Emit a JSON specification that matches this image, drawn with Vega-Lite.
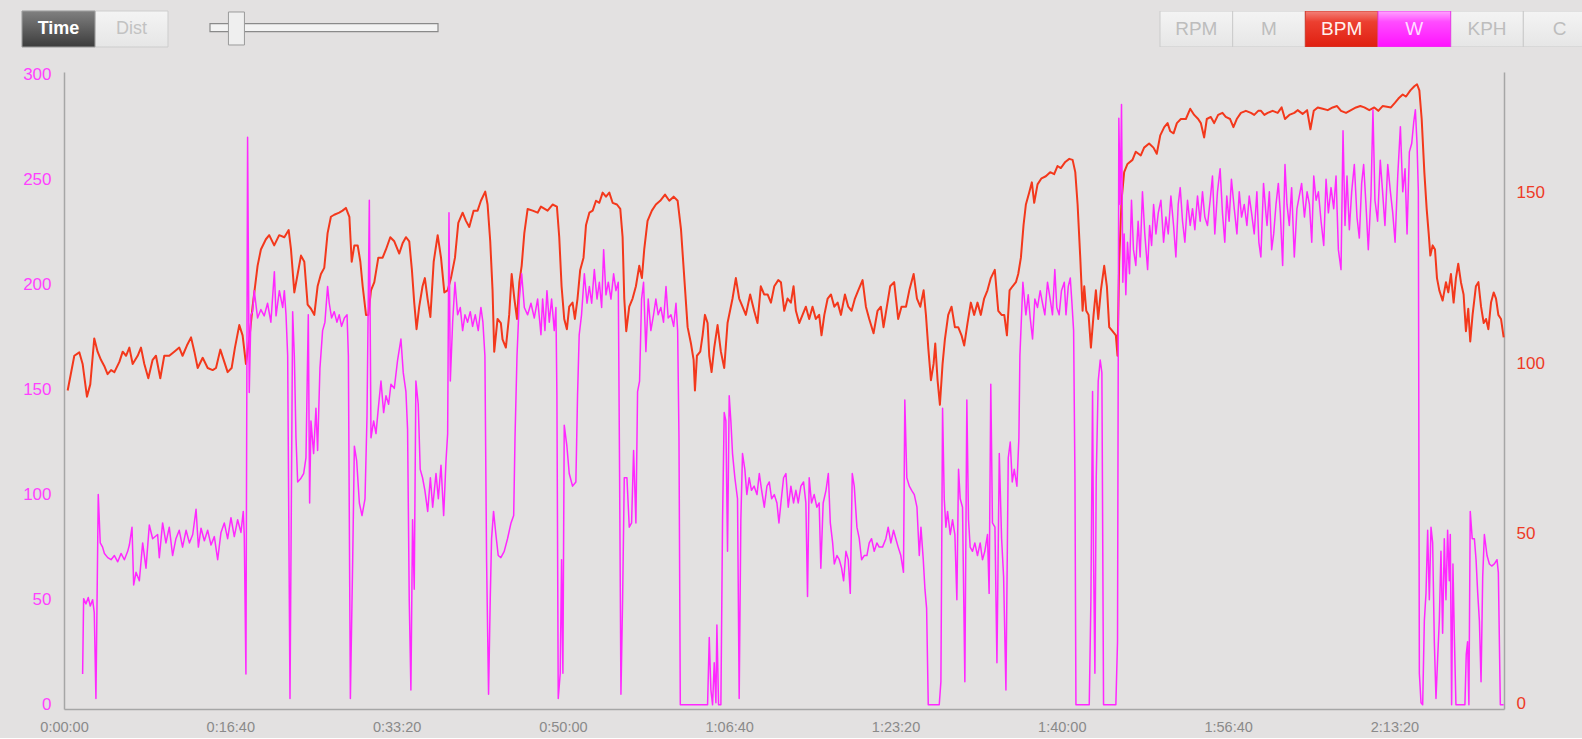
{
"$schema": "https://vega.github.io/schema/vega-lite/v6.json",
"background": "#e3e1e1",
"padding": {"left": 21, "top": 10, "right": 0, "bottom": 4},
"config": {"view": {"stroke": null}, "font": "Liberation Sans"},
"spacing": 17,
"datasets": {
"bpm": [
{"t":22,"bpm":92.0},{"t":62,"bpm":102.2},{"t":92,"bpm":103.2},{"t":112,"bpm":99.8},{"t":138,"bpm":90.2},{"t":158,"bpm":93.8},{"t":182,"bpm":107.3},{"t":202,"bpm":103.4},{"t":222,"bpm":101.0},{"t":242,"bpm":99.2},{"t":262,"bpm":96.8},{"t":283,"bpm":98.0},{"t":303,"bpm":97.4},{"t":333,"bpm":100.4},{"t":353,"bpm":103.4},{"t":373,"bpm":102.2},{"t":393,"bpm":104.6},{"t":413,"bpm":99.8},{"t":443,"bpm":102.2},{"t":463,"bpm":104.6},{"t":483,"bpm":99.8},{"t":507,"bpm":95.6},{"t":533,"bpm":101.0},{"t":553,"bpm":102.2},{"t":579,"bpm":95.6},{"t":603,"bpm":102.2},{"t":633,"bpm":102.2},{"t":663,"bpm":103.4},{"t":693,"bpm":104.6},{"t":713,"bpm":102.2},{"t":739,"bpm":105.2},{"t":764,"bpm":107.6},{"t":784,"bpm":103.4},{"t":804,"bpm":98.6},{"t":834,"bpm":101.6},{"t":864,"bpm":98.6},{"t":894,"bpm":98.0},{"t":914,"bpm":98.6},{"t":940,"bpm":104.0},{"t":964,"bpm":100.4},{"t":984,"bpm":97.4},{"t":1008,"bpm":98.6},{"t":1028,"bpm":104.6},{"t":1054,"bpm":111.2},{"t":1074,"bpm":108.2},{"t":1094,"bpm":99.8},{"t":1114,"bpm":107.0},{"t":1134,"bpm":116.6},{"t":1164,"bpm":128.6},{"t":1184,"bpm":133.4},{"t":1214,"bpm":136.4},{"t":1234,"bpm":137.6},{"t":1264,"bpm":134.6},{"t":1294,"bpm":137.6},{"t":1325,"bpm":137.0},{"t":1351,"bpm":139.1},{"t":1365,"bpm":133.4},{"t":1385,"bpm":120.8},{"t":1405,"bpm":126.2},
{"t":1425,"bpm":131.6},{"t":1445,"bpm":129.8},{"t":1465,"bpm":117.2},{"t":1485,"bpm":116.0},{"t":1505,"bpm":114.2},{"t":1525,"bpm":122.6},{"t":1545,"bpm":126.2},{"t":1565,"bpm":128.0},{"t":1585,"bpm":138.2},{"t":1605,"bpm":143.0},{"t":1625,"bpm":143.6},{"t":1655,"bpm":144.2},{"t":1675,"bpm":144.8},{"t":1695,"bpm":145.6},{"t":1716,"bpm":143.0},{"t":1730,"bpm":129.8},{"t":1746,"bpm":134.6},{"t":1766,"bpm":134.6},{"t":1782,"bpm":129.8},{"t":1796,"bpm":122.6},{"t":1816,"bpm":114.2},{"t":1830,"bpm":114.2},{"t":1846,"bpm":121.4},{"t":1866,"bpm":123.8},{"t":1890,"bpm":131.0},{"t":1916,"bpm":131.0},{"t":1936,"bpm":133.4},{"t":1962,"bpm":137.0},{"t":1986,"bpm":135.8},{"t":2016,"bpm":132.2},{"t":2036,"bpm":135.2},{"t":2056,"bpm":137.0},{"t":2076,"bpm":135.8},{"t":2092,"bpm":127.4},{"t":2106,"bpm":117.8},{"t":2120,"bpm":110.0},{"t":2136,"bpm":116.6},{"t":2156,"bpm":122.6},{"t":2170,"bpm":125.0},{"t":2186,"bpm":119.0},{"t":2203,"bpm":113.6},{"t":2223,"bpm":129.8},{"t":2247,"bpm":137.6},{"t":2267,"bpm":131.0},{"t":2287,"bpm":120.8},{"t":2307,"bpm":121.4},{"t":2327,"bpm":125.0},{"t":2351,"bpm":131.0},{"t":2371,"bpm":141.2},{"t":2397,"bpm":144.2},{"t":2417,"bpm":141.8},{"t":2437,"bpm":140.0},{"t":2463,"bpm":144.8},{"t":2487,"bpm":144.8},{"t":2507,"bpm":147.7},{"t":2533,"bpm":150.4},{"t":2547,"bpm":146.6},{"t":2563,"bpm":135.8},{"t":2577,"bpm":121.4},{"t":2587,"bpm":103.4},{"t":2607,"bpm":113.0},{"t":2627,"bpm":111.8},{"t":2637,"bpm":107.0},{"t":2657,"bpm":104.6},{"t":2677,"bpm":114.2},{"t":2692,"bpm":126.2},{"t":2708,"bpm":119.0},{"t":2724,"bpm":113.0},{"t":2738,"bpm":123.8},{"t":2752,"bpm":128.6},{"t":2768,"bpm":138.2},{"t":2788,"bpm":145.3},{"t":2818,"bpm":144.8},{"t":2848,"bpm":144.2},
{"t":2868,"bpm":146.0},{"t":2908,"bpm":144.8},{"t":2938,"bpm":146.6},{"t":2964,"bpm":146.0},{"t":2978,"bpm":137.0},{"t":2992,"bpm":122.6},{"t":3008,"bpm":113.0},{"t":3024,"bpm":110.0},{"t":3038,"bpm":116.6},{"t":3058,"bpm":117.8},{"t":3072,"bpm":113.0},{"t":3088,"bpm":119.0},{"t":3104,"bpm":127.4},{"t":3124,"bpm":131.0},{"t":3139,"bpm":140.6},{"t":3159,"bpm":144.2},{"t":3179,"bpm":144.8},{"t":3199,"bpm":147.7},{"t":3219,"bpm":147.1},{"t":3239,"bpm":150.1},{"t":3259,"bpm":148.9},{"t":3279,"bpm":150.1},{"t":3299,"bpm":147.1},{"t":3325,"bpm":146.6},{"t":3345,"bpm":145.3},{"t":3359,"bpm":137.0},{"t":3369,"bpm":119.0},{"t":3381,"bpm":109.4},{"t":3399,"bpm":116.6},{"t":3419,"bpm":119.0},{"t":3439,"bpm":122.6},{"t":3459,"bpm":128.6},{"t":3475,"bpm":125.0},{"t":3489,"bpm":133.4},{"t":3509,"bpm":141.8},{"t":3535,"bpm":144.8},{"t":3559,"bpm":146.6},{"t":3585,"bpm":147.7},{"t":3614,"bpm":149.5},{"t":3640,"bpm":147.7},{"t":3666,"bpm":148.9},{"t":3690,"bpm":147.7},{"t":3710,"bpm":139.4},{"t":3730,"bpm":125.0},{"t":3750,"bpm":110.6},{"t":3770,"bpm":105.8},{"t":3786,"bpm":101.0},{"t":3794,"bpm":92.0},{"t":3806,"bpm":102.2},{"t":3826,"bpm":103.4},{"t":3840,"bpm":108.2},{"t":3854,"bpm":114.2},{"t":3870,"bpm":111.8},{"t":3880,"bpm":102.2},{"t":3894,"bpm":97.4},{"t":3910,"bpm":104.6},{"t":3930,"bpm":111.2},{"t":3950,"bpm":103.4},{"t":3970,"bpm":98.6},{"t":3990,"bpm":111.8},{"t":4020,"bpm":119.0},{"t":4040,"bpm":125.0},{"t":4060,"bpm":119.0},{"t":4080,"bpm":116.6},{"t":4100,"bpm":114.2},{"t":4126,"bpm":120.2},{"t":4150,"bpm":115.4},{"t":4170,"bpm":111.8},{"t":4190,"bpm":122.6},{"t":4210,"bpm":120.2},{"t":4231,"bpm":120.2},{"t":4251,"bpm":117.8},{"t":4271,"bpm":122.6},{"t":4295,"bpm":124.4},
{"t":4311,"bpm":123.8},{"t":4331,"bpm":115.4},{"t":4351,"bpm":119.0},{"t":4371,"bpm":117.8},{"t":4387,"bpm":122.6},{"t":4401,"bpm":115.4},{"t":4421,"bpm":111.8},{"t":4441,"bpm":114.2},{"t":4461,"bpm":116.6},{"t":4481,"bpm":113.0},{"t":4501,"bpm":116.6},{"t":4521,"bpm":113.0},{"t":4541,"bpm":114.2},{"t":4555,"bpm":108.2},{"t":4572,"bpm":114.2},{"t":4592,"bpm":119.0},{"t":4612,"bpm":120.2},{"t":4632,"bpm":116.6},{"t":4652,"bpm":117.8},{"t":4672,"bpm":114.2},{"t":4696,"bpm":120.2},{"t":4716,"bpm":116.6},{"t":4736,"bpm":115.4},{"t":4756,"bpm":119.0},{"t":4776,"bpm":121.4},{"t":4802,"bpm":124.4},{"t":4822,"bpm":116.6},{"t":4842,"bpm":113.0},{"t":4868,"bpm":108.8},{"t":4892,"bpm":115.4},{"t":4912,"bpm":116.6},{"t":4928,"bpm":110.6},{"t":4948,"bpm":116.6},{"t":4968,"bpm":122.6},{"t":4992,"bpm":123.8},{"t":5016,"bpm":113.0},{"t":5036,"bpm":116.6},{"t":5063,"bpm":116.6},{"t":5083,"bpm":121.4},{"t":5109,"bpm":126.2},{"t":5129,"bpm":119.0},{"t":5149,"bpm":116.6},{"t":5169,"bpm":121.4},{"t":5183,"bpm":114.2},{"t":5197,"bpm":104.6},{"t":5213,"bpm":95.0},{"t":5229,"bpm":99.8},{"t":5239,"bpm":105.8},{"t":5253,"bpm":95.0},{"t":5267,"bpm":87.8},{"t":5283,"bpm":99.8},{"t":5297,"bpm":107.0},{"t":5317,"bpm":114.2},{"t":5337,"bpm":116.6},{"t":5357,"bpm":110.6},{"t":5377,"bpm":110.6},{"t":5397,"bpm":108.2},{"t":5413,"bpm":105.2},{"t":5433,"bpm":111.8},{"t":5453,"bpm":117.8},{"t":5473,"bpm":114.2},{"t":5493,"bpm":117.8},{"t":5513,"bpm":114.2},{"t":5533,"bpm":119.0},{"t":5553,"bpm":121.4},{"t":5573,"bpm":125.0},{"t":5597,"bpm":127.4},{"t":5618,"bpm":115.4},{"t":5638,"bpm":114.2},{"t":5654,"bpm":114.2},{"t":5670,"bpm":108.2},{"t":5686,"bpm":121.4},{"t":5704,"bpm":122.6},{"t":5724,"bpm":123.8},{"t":5738,"bpm":126.2},
{"t":5754,"bpm":131.0},{"t":5770,"bpm":140.6},{"t":5784,"bpm":146.6},{"t":5804,"bpm":150.1},{"t":5820,"bpm":153.1},{"t":5834,"bpm":147.1},{"t":5854,"bpm":152.5},{"t":5878,"bpm":154.3},{"t":5904,"bpm":154.9},{"t":5930,"bpm":156.1},{"t":5954,"bpm":155.5},{"t":5974,"bpm":157.9},{"t":5994,"bpm":157.3},{"t":6021,"bpm":159.1},{"t":6045,"bpm":160.0},{"t":6065,"bpm":159.7},{"t":6081,"bpm":156.1},{"t":6095,"bpm":146.6},{"t":6111,"bpm":131.0},{"t":6125,"bpm":115.4},{"t":6135,"bpm":122.6},{"t":6147,"bpm":115.4},{"t":6161,"bpm":114.2},{"t":6175,"bpm":104.6},{"t":6191,"bpm":114.2},{"t":6205,"bpm":121.4},{"t":6219,"bpm":113.0},{"t":6235,"bpm":121.4},{"t":6255,"bpm":128.6},{"t":6271,"bpm":122.6},{"t":6285,"bpm":110.6},{"t":6305,"bpm":109.4},{"t":6325,"bpm":108.2},{"t":6335,"bpm":102.2},{"t":6345,"bpm":129.8},{"t":6359,"bpm":147.7},{"t":6375,"bpm":156.1},{"t":6395,"bpm":158.5},{"t":6425,"bpm":159.7},{"t":6445,"bpm":162.1},{"t":6475,"bpm":161.0},{"t":6495,"bpm":163.3},{"t":6525,"bpm":164.5},{"t":6551,"bpm":163.3},{"t":6571,"bpm":161.5},{"t":6592,"bpm":166.9},{"t":6616,"bpm":169.3},{"t":6636,"bpm":170.5},{"t":6652,"bpm":168.1},{"t":6672,"bpm":167.5},{"t":6692,"bpm":170.5},{"t":6716,"bpm":171.7},{"t":6746,"bpm":171.7},{"t":6772,"bpm":174.7},{"t":6796,"bpm":172.9},{"t":6820,"bpm":171.7},{"t":6836,"bpm":170.5},{"t":6856,"bpm":166.3},{"t":6872,"bpm":171.7},{"t":6896,"bpm":172.3},{"t":6916,"bpm":170.5},{"t":6940,"bpm":172.9},{"t":6966,"bpm":173.5},{"t":6986,"bpm":172.3},{"t":7012,"bpm":171.7},{"t":7032,"bpm":169.3},{"t":7052,"bpm":171.7},{"t":7077,"bpm":173.5},{"t":7107,"bpm":174.1},{"t":7137,"bpm":173.5},{"t":7157,"bpm":172.9},{"t":7181,"bpm":174.1},
{"t":7198,"bpm":174.1},{"t":7218,"bpm":172.9},{"t":7238,"bpm":173.5},{"t":7268,"bpm":174.1},{"t":7298,"bpm":173.5},{"t":7322,"bpm":175.1},{"t":7342,"bpm":171.7},{"t":7368,"bpm":172.9},{"t":7398,"bpm":173.5},{"t":7418,"bpm":174.3},{"t":7448,"bpm":173.2},{"t":7475,"bpm":174.3},{"t":7495,"bpm":168.7},{"t":7515,"bpm":174.1},{"t":7539,"bpm":175.1},{"t":7569,"bpm":174.7},{"t":7599,"bpm":174.3},{"t":7629,"bpm":175.1},{"t":7655,"bpm":175.5},{"t":7679,"bpm":174.1},{"t":7709,"bpm":173.5},{"t":7739,"bpm":174.3},{"t":7769,"bpm":175.1},{"t":7795,"bpm":175.5},{"t":7819,"bpm":175.1},{"t":7849,"bpm":174.3},{"t":7879,"bpm":175.1},{"t":7903,"bpm":174.1},{"t":7929,"bpm":175.5},{"t":7955,"bpm":175.3},{"t":7979,"bpm":175.1},{"t":8004,"bpm":176.5},{"t":8024,"bpm":177.7},{"t":8050,"bpm":178.9},{"t":8070,"bpm":178.3},{"t":8096,"bpm":180.1},{"t":8120,"bpm":181.3},{"t":8136,"bpm":181.9},{"t":8150,"bpm":180.1},{"t":8164,"bpm":171.7},{"t":8180,"bpm":156.1},{"t":8194,"bpm":145.3},{"t":8206,"bpm":138.2},{"t":8216,"bpm":131.6},{"t":8230,"bpm":134.6},{"t":8244,"bpm":133.4},{"t":8256,"bpm":125.0},{"t":8270,"bpm":121.4},{"t":8290,"bpm":118.4},{"t":8310,"bpm":123.8},{"t":8324,"bpm":120.8},{"t":8340,"bpm":126.2},{"t":8356,"bpm":117.8},{"t":8370,"bpm":125.0},{"t":8384,"bpm":129.2},{"t":8400,"bpm":123.8},{"t":8416,"bpm":120.2},{"t":8430,"bpm":109.4},{"t":8444,"bpm":116.0},{"t":8456,"bpm":106.4},{"t":8470,"bpm":114.2},{"t":8490,"bpm":122.6},{"t":8505,"bpm":123.8},{"t":8521,"bpm":116.6},{"t":8537,"bpm":111.8},{"t":8551,"bpm":113.0},{"t":8565,"bpm":110.0},{"t":8581,"bpm":117.8},{"t":8597,"bpm":120.8},{"t":8611,"bpm":119.0},{"t":8625,"bpm":114.2},{"t":8641,"bpm":113.0},{"t":8657,"bpm":107.6}
],
"watts": [
{"t":112,"w":14.6},{"t":118,"w":50.5},{"t":132,"w":48},{"t":146,"w":51},{"t":158,"w":47},{"t":172,"w":50},{"t":182,"w":44},{"t":192,"w":3},{"t":206,"w":100},{"t":218,"w":77},{"t":232,"w":75},{"t":243,"w":72},{"t":263,"w":70},{"t":283,"w":69},{"t":303,"w":71},{"t":323,"w":68},{"t":343,"w":72},{"t":363,"w":69},{"t":383,"w":73},{"t":393,"w":76},{"t":409,"w":84.5},{"t":419,"w":57},{"t":433,"w":63},{"t":453,"w":59},{"t":473,"w":77},{"t":493,"w":65},{"t":513,"w":85.5},{"t":533,"w":79},{"t":563,"w":81},{"t":573,"w":70},{"t":593,"w":86.5},{"t":613,"w":77},{"t":633,"w":84.5},{"t":653,"w":71},{"t":673,"w":79},{"t":693,"w":83},{"t":713,"w":75},{"t":734,"w":83},{"t":754,"w":77},{"t":774,"w":81},{"t":794,"w":93},{"t":808,"w":75},{"t":824,"w":84},{"t":844,"w":78},{"t":864,"w":83},{"t":884,"w":76},{"t":904,"w":80},{"t":924,"w":69},{"t":944,"w":82},{"t":964,"w":86.5},{"t":984,"w":79},{"t":1004,"w":89},{"t":1024,"w":80},{"t":1044,"w":88},{"t":1064,"w":82},{"t":1078,"w":92},{"t":1084,"w":80.6},{"t":1094,"w":14.6},{"t":1104,"w":270},{"t":1114,"w":148.6},{"t":1124,"w":185.5},{"t":1134,"w":187},{"t":1144,"w":197},{"t":1164,"w":184},{"t":1184,"w":188},{"t":1204,"w":185},{"t":1224,"w":191},{"t":1244,"w":182},{"t":1265,"w":206},{"t":1275,"w":185},{"t":1295,"w":197},{"t":1315,"w":189},{"t":1325,"w":197},{"t":1335,"w":185.5},{"t":1345,"w":166},{"t":1359,"w":3},{"t":1375,"w":187},{"t":1385,"w":166},{"t":1395,"w":127},{"t":1405,"w":106},
{"t":1425,"w":107.8},{"t":1441,"w":110},{"t":1455,"w":117.5},{"t":1469,"w":185.5},{"t":1477,"w":96},{"t":1485,"w":135},{"t":1501,"w":119.5},{"t":1515,"w":141},{"t":1525,"w":121},{"t":1539,"w":160},{"t":1555,"w":178},{"t":1569,"w":182},{"t":1585,"w":199},{"t":1595,"w":191},{"t":1609,"w":184},{"t":1625,"w":187},{"t":1641,"w":182},{"t":1655,"w":185.5},{"t":1669,"w":180},{"t":1686,"w":184},{"t":1702,"w":185.5},{"t":1710,"w":166},{"t":1722,"w":3},{"t":1736,"w":69},{"t":1746,"w":123},{"t":1760,"w":116},{"t":1776,"w":96},{"t":1792,"w":90},{"t":1810,"w":98},{"t":1822,"w":137},{"t":1836,"w":240},{"t":1846,"w":127},{"t":1862,"w":135},{"t":1876,"w":129},{"t":1890,"w":141},{"t":1906,"w":154},{"t":1922,"w":139},{"t":1936,"w":147},{"t":1952,"w":143},{"t":1966,"w":152.5},{"t":1986,"w":150.5},{"t":2006,"w":164},{"t":2026,"w":174},{"t":2040,"w":158},{"t":2056,"w":149},{"t":2066,"w":131},{"t":2076,"w":50},{"t":2086,"w":7},{"t":2096,"w":88},{"t":2106,"w":55},{"t":2116,"w":154},{"t":2130,"w":143},{"t":2142,"w":112},{"t":2156,"w":108},{"t":2170,"w":102},{"t":2187,"w":92},{"t":2203,"w":108},{"t":2217,"w":94},{"t":2237,"w":110},{"t":2251,"w":98},{"t":2267,"w":114},{"t":2283,"w":90},{"t":2297,"w":116},{"t":2307,"w":129},{"t":2315,"w":234},{"t":2323,"w":154},{"t":2337,"w":182},{"t":2351,"w":201},{"t":2367,"w":185.5},{"t":2383,"w":189},{"t":2397,"w":178},{"t":2411,"w":185.5},{"t":2427,"w":182},{"t":2443,"w":187},{"t":2457,"w":180},{"t":2473,"w":185.5},{"t":2491,"w":178},{"t":2507,"w":189},{"t":2519,"w":182},{"t":2531,"w":166},{"t":2541,"w":69},{"t":2553,"w":5},{"t":2563,"w":50},{"t":2571,"w":79},{"t":2583,"w":92},{"t":2597,"w":81},{"t":2611,"w":71},{"t":2627,"w":70},{"t":2647,"w":73},{"t":2667,"w":79},{"t":2688,"w":86.5},{"t":2704,"w":90},{"t":2712,"w":127},{"t":2724,"w":166},{"t":2738,"w":193},{"t":2752,"w":205},{"t":2768,"w":189},{"t":2788,"w":185.5},{"t":2808,"w":191},{"t":2828,"w":184},{"t":2848,"w":193},
{"t":2868,"w":176},{"t":2878,"w":193},{"t":2892,"w":178},{"t":2904,"w":197},{"t":2918,"w":182},{"t":2932,"w":193},{"t":2948,"w":178},{"t":2958,"w":189},{"t":2964,"w":147},{"t":2972,"w":3},{"t":2984,"w":15},{"t":2992,"w":69},{"t":3000,"w":15},{"t":3008,"w":133},{"t":3024,"w":123},{"t":3038,"w":110},{"t":3058,"w":104},{"t":3078,"w":106},{"t":3088,"w":147},{"t":3098,"w":176},{"t":3112,"w":185.5},{"t":3129,"w":205},{"t":3145,"w":191},{"t":3159,"w":199},{"t":3173,"w":191},{"t":3189,"w":207},{"t":3205,"w":193},{"t":3219,"w":201},{"t":3233,"w":189},{"t":3245,"w":216.5},{"t":3259,"w":195},{"t":3273,"w":201},{"t":3289,"w":193},{"t":3305,"w":205},{"t":3319,"w":197},{"t":3333,"w":201},{"t":3341,"w":108},{"t":3349,"w":5},{"t":3359,"w":50},{"t":3369,"w":108},{"t":3385,"w":108},{"t":3399,"w":84.5},{"t":3413,"w":86.5},{"t":3425,"w":121},{"t":3439,"w":86.5},{"t":3449,"w":149},{"t":3461,"w":154},{"t":3473,"w":193},{"t":3485,"w":201},{"t":3499,"w":168},{"t":3513,"w":193},{"t":3529,"w":178},{"t":3545,"w":185.5},{"t":3559,"w":193},{"t":3573,"w":185.5},{"t":3589,"w":189},{"t":3605,"w":182},{"t":3620,"w":199},{"t":3633,"w":184},{"t":3650,"w":185.5},{"t":3666,"w":180},{"t":3680,"w":191},{"t":3690,"w":178},{"t":3698,"w":127},{"t":3706,"w":0},{"t":3720,"w":0},{"t":3860,"w":0},{"t":3870,"w":0},{"t":3880,"w":32},{"t":3890,"w":7},{"t":3900,"w":0},{"t":3910,"w":20},{"t":3920,"w":1},{"t":3926,"w":38},{"t":3936,"w":0},{"t":3950,"w":0},{"t":3960,"w":88},{"t":3970,"w":139},{"t":3980,"w":135},{"t":3990,"w":73},{"t":4000,"w":147},{"t":4010,"w":135},{"t":4020,"w":119.5},{"t":4034,"w":108},{"t":4050,"w":98},{"t":4060,"w":3},{"t":4070,"w":88},{"t":4080,"w":119.5},{"t":4094,"w":112},{"t":4106,"w":100},{"t":4120,"w":108},{"t":4134,"w":102},{"t":4150,"w":104},{"t":4167,"w":100},{"t":4181,"w":110},{"t":4195,"w":102},{"t":4211,"w":94},{"t":4227,"w":104},{"t":4241,"w":106},{"t":4255,"w":98},{"t":4271,"w":100},{"t":4287,"w":96},{"t":4299,"w":86.5},
{"t":4311,"w":96},{"t":4327,"w":108},{"t":4341,"w":110},{"t":4355,"w":94},{"t":4371,"w":104},{"t":4387,"w":96},{"t":4401,"w":102},{"t":4415,"w":96},{"t":4431,"w":104},{"t":4447,"w":106},{"t":4461,"w":96},{"t":4471,"w":51.5},{"t":4481,"w":108},{"t":4495,"w":96},{"t":4511,"w":100},{"t":4527,"w":94},{"t":4541,"w":96},{"t":4551,"w":65},{"t":4565,"w":96},{"t":4582,"w":102},{"t":4596,"w":110},{"t":4608,"w":86.5},{"t":4622,"w":77},{"t":4632,"w":67},{"t":4648,"w":71},{"t":4662,"w":69},{"t":4676,"w":65},{"t":4688,"w":59},{"t":4702,"w":73},{"t":4716,"w":69},{"t":4728,"w":53},{"t":4740,"w":110},{"t":4752,"w":104},{"t":4768,"w":84.5},{"t":4782,"w":79},{"t":4796,"w":69},{"t":4812,"w":71},{"t":4828,"w":71},{"t":4842,"w":77},{"t":4856,"w":79},{"t":4872,"w":73},{"t":4888,"w":77},{"t":4902,"w":75},{"t":4922,"w":75},{"t":4942,"w":79},{"t":4956,"w":84.5},{"t":4972,"w":77},{"t":4988,"w":83},{"t":5002,"w":79},{"t":5016,"w":75},{"t":5032,"w":71},{"t":5048,"w":63},{"t":5056,"w":145},{"t":5068,"w":108},{"t":5083,"w":104},{"t":5097,"w":102},{"t":5113,"w":100},{"t":5129,"w":94},{"t":5143,"w":71},{"t":5153,"w":84.5},{"t":5167,"w":69},{"t":5177,"w":55},{"t":5187,"w":46},{"t":5197,"w":0},{"t":5213,"w":0},{"t":5263,"w":0},{"t":5273,"w":11},{"t":5283,"w":141},{"t":5293,"w":98},{"t":5303,"w":84.5},{"t":5313,"w":92},{"t":5329,"w":81},{"t":5343,"w":88},{"t":5357,"w":81},{"t":5369,"w":50},{"t":5379,"w":112},{"t":5389,"w":98},{"t":5403,"w":94},{"t":5417,"w":11},{"t":5429,"w":145},{"t":5439,"w":88},{"t":5449,"w":75},{"t":5463,"w":73},{"t":5477,"w":77},{"t":5493,"w":71},{"t":5509,"w":77},{"t":5523,"w":69},{"t":5537,"w":73},{"t":5553,"w":81},{"t":5563,"w":53},{"t":5573,"w":152.5},{"t":5583,"w":86.5},{"t":5598,"w":84.5},{"t":5610,"w":20},{"t":5624,"w":119.5},{"t":5638,"w":79},{"t":5650,"w":61},{"t":5664,"w":7},{"t":5678,"w":117.5},{"t":5690,"w":125},{"t":5702,"w":106},{"t":5714,"w":112},{"t":5730,"w":104},{"t":5742,"w":127},{"t":5748,"w":166},{"t":5766,"w":201},
{"t":5784,"w":185.5},{"t":5798,"w":195},{"t":5810,"w":184},{"t":5824,"w":174},{"t":5838,"w":193},{"t":5854,"w":189},{"t":5870,"w":197},{"t":5884,"w":191},{"t":5898,"w":185.5},{"t":5914,"w":201},{"t":5930,"w":193},{"t":5944,"w":185.5},{"t":5958,"w":207},{"t":5970,"w":189},{"t":5984,"w":185.5},{"t":5998,"w":197},{"t":6015,"w":201},{"t":6025,"w":185.5},{"t":6039,"w":199},{"t":6051,"w":203},{"t":6061,"w":191},{"t":6071,"w":178},{"t":6079,"w":108},{"t":6085,"w":0},{"t":6099,"w":0},{"t":6165,"w":0},{"t":6175,"w":50},{"t":6185,"w":149},{"t":6191,"w":69},{"t":6199,"w":15},{"t":6207,"w":108},{"t":6219,"w":154},{"t":6231,"w":164},{"t":6241,"w":158},{"t":6251,"w":0},{"t":6265,"w":0},{"t":6325,"w":0},{"t":6335,"w":30},{"t":6343,"w":279},{"t":6351,"w":238},{"t":6359,"w":285.5},{"t":6367,"w":201},{"t":6375,"w":224},{"t":6385,"w":195},{"t":6395,"w":220},{"t":6407,"w":205},{"t":6419,"w":240},{"t":6431,"w":216.5},{"t":6445,"w":209},{"t":6459,"w":230},{"t":6471,"w":213},{"t":6485,"w":244},{"t":6499,"w":224},{"t":6516,"w":207},{"t":6528,"w":228},{"t":6540,"w":218.5},{"t":6552,"w":238},{"t":6566,"w":224},{"t":6580,"w":234},{"t":6596,"w":240},{"t":6612,"w":220},{"t":6626,"w":232},{"t":6640,"w":224},{"t":6656,"w":242},{"t":6672,"w":228},{"t":6686,"w":213},{"t":6700,"w":238},{"t":6712,"w":246},{"t":6726,"w":230},{"t":6740,"w":220},{"t":6756,"w":240},{"t":6772,"w":228},{"t":6786,"w":236},{"t":6800,"w":226},{"t":6816,"w":242},{"t":6832,"w":230},{"t":6846,"w":244},{"t":6860,"w":232},{"t":6876,"w":228},{"t":6892,"w":240},{"t":6906,"w":251.5},{"t":6920,"w":224},{"t":6936,"w":244},{"t":6952,"w":255},{"t":6966,"w":234},{"t":6980,"w":220},{"t":6992,"w":242},{"t":7006,"w":230},{"t":7020,"w":250},{"t":7037,"w":236},{"t":7053,"w":224},{"t":7067,"w":244},{"t":7081,"w":232},{"t":7097,"w":238},{"t":7113,"w":228},{"t":7127,"w":242},{"t":7141,"w":234},{"t":7157,"w":224},{"t":7173,"w":244},{"t":7185,"w":220},{"t":7197,"w":213},{"t":7213,"w":248},{"t":7227,"w":234},
{"t":7234,"w":228},{"t":7248,"w":244},{"t":7262,"w":216.5},{"t":7274,"w":224},{"t":7288,"w":238},{"t":7302,"w":248},{"t":7314,"w":234},{"t":7328,"w":209},{"t":7342,"w":257},{"t":7354,"w":238},{"t":7368,"w":228},{"t":7382,"w":246},{"t":7398,"w":213},{"t":7414,"w":236},{"t":7428,"w":242},{"t":7442,"w":248},{"t":7459,"w":232},{"t":7475,"w":244},{"t":7489,"w":238},{"t":7503,"w":220},{"t":7515,"w":251.5},{"t":7529,"w":240},{"t":7543,"w":244},{"t":7559,"w":230},{"t":7575,"w":218.5},{"t":7589,"w":250},{"t":7603,"w":234},{"t":7619,"w":246},{"t":7635,"w":236},{"t":7649,"w":251.5},{"t":7663,"w":216.5},{"t":7679,"w":207},{"t":7691,"w":273},{"t":7703,"w":228},{"t":7715,"w":251.5},{"t":7729,"w":226},{"t":7743,"w":244},{"t":7759,"w":257},{"t":7775,"w":232},{"t":7789,"w":222},{"t":7803,"w":248},{"t":7815,"w":257},{"t":7829,"w":238},{"t":7843,"w":216.5},{"t":7859,"w":242},{"t":7871,"w":283},{"t":7883,"w":240},{"t":7899,"w":230},{"t":7915,"w":259},{"t":7929,"w":244},{"t":7943,"w":228},{"t":7960,"w":257},{"t":7976,"w":244},{"t":7990,"w":234},{"t":8004,"w":220},{"t":8020,"w":251.5},{"t":8036,"w":275},{"t":8050,"w":244},{"t":8064,"w":255},{"t":8076,"w":224},{"t":8090,"w":263},{"t":8104,"w":267},{"t":8116,"w":277},{"t":8126,"w":283},{"t":8136,"w":267},{"t":8144,"w":244},{"t":8150,"w":15},{"t":8160,"w":1},{"t":8170,"w":0},{"t":8180,"w":40},{"t":8190,"w":53},{"t":8200,"w":83},{"t":8210,"w":50},{"t":8220,"w":84.5},{"t":8230,"w":77},{"t":8240,"w":30},{"t":8250,"w":3},{"t":8260,"w":22},{"t":8270,"w":40},{"t":8280,"w":73},{"t":8290,"w":34},{"t":8300,"w":79},{"t":8310,"w":50},{"t":8320,"w":83},{"t":8330,"w":59},{"t":8336,"w":81},{"t":8344,"w":0},{"t":8352,"w":67},{"t":8360,"w":34},{"t":8370,"w":0},{"t":8424,"w":0},{"t":8432,"w":24},{"t":8440,"w":30},{"t":8448,"w":0},{"t":8456,"w":92},{"t":8468,"w":79},{"t":8481,"w":79},{"t":8491,"w":69},{"t":8501,"w":53},{"t":8511,"w":40},{"t":8521,"w":11},{"t":8531,"w":61},{"t":8541,"w":81},{"t":8557,"w":71},{"t":8571,"w":67},{"t":8585,"w":66},{"t":8601,"w":67},{"t":8617,"w":69},{"t":8625,"w":63},{"t":8637,"w":0},{"t":8657,"w":0}
]
},
"vconcat": [
{
"width": 1519, "height": 36,
"resolve": {"scale": {"x": "independent", "y": "independent"}},
"layer": [
{
"data": {"values": [{"label": "Time"}, {"label": "Dist"}]},
"encoding": {"x": {"field": "label", "type": "nominal", "sort": null, "axis": null, "scale": {"range": [-42, 104], "paddingInner": 0, "paddingOuter": 0}}},
"layer": [
{"mark": {"type": "rect", "fill": {"gradient": "linear", "x1": 0, "y1": 0, "x2": 0, "y2": 1, "stops": [{"offset": 0, "color": "#f4f4f4"}, {"offset": 1, "color": "#e6e6e6"}]}, "stroke": "#cdcdcd", "strokeWidth": 1}},
{"transform": [{"filter": "datum.label === 'Time'"}], "mark": {"type": "rect", "fill": {"gradient": "linear", "x1": 0, "y1": 0, "x2": 0, "y2": 1, "stops": [{"offset": 0, "color": "#808080"}, {"offset": 1, "color": "#3c3c3c"}]}, "stroke": "#a0a0a0", "strokeWidth": 1}},
{"transform": [{"filter": "datum.label === 'Time'"}], "mark": {"type": "text", "color": "#ffffff", "fontSize": 18, "fontWeight": "bold", "baseline": "middle"}, "encoding": {"text": {"field": "label"}}},
{"transform": [{"filter": "datum.label === 'Dist'"}], "mark": {"type": "text", "color": "#c2c2c2", "fontSize": 18, "baseline": "middle"}, "encoding": {"text": {"field": "label"}}}
]
},
{
"data": {"values": [{"slider": 0.116}]},
"layer": [
{"mark": {"type": "rect", "fill": "#f3f3f3", "stroke": "#8a8a8a", "strokeWidth": 1.2},
 "encoding": {"x": {"datum": 0, "type": "quantitative", "scale": {"domain": [0, 1], "range": [146, 374], "nice": false, "zero": false}, "axis": null}, "x2": {"datum": 1}, "y": {"datum": 0.425, "type": "quantitative", "scale": {"domain": [0, 1], "nice": false}, "axis": null}, "y2": {"datum": 0.647}}},
{"mark": {"type": "tick", "orient": "vertical", "size": 33, "thickness": 16, "color": "#efefef", "filled": true, "stroke": "#9b9b9b", "strokeWidth": 1, "opacity": 1},
 "encoding": {"x": {"field": "slider", "type": "quantitative"}, "y": {"datum": 0.514, "type": "quantitative"}}}
]
},
{
"data": {"values": [{"b": "RPM"}, {"b": "M"}, {"b": "BPM"}, {"b": "W"}, {"b": "KPH"}, {"b": "C"}]},
"encoding": {"x": {"field": "b", "type": "nominal", "sort": null, "axis": null, "scale": {"range": [1096, 1532], "paddingInner": 0, "paddingOuter": 0}}},
"layer": [
{"mark": {"type": "rect", "clip": true, "fill": {"gradient": "linear", "x1": 0, "y1": 0, "x2": 0, "y2": 1, "stops": [{"offset": 0, "color": "#f4f4f4"}, {"offset": 1, "color": "#e6e6e6"}]}, "stroke": "#cbcbcb", "strokeWidth": 1}},
{"transform": [{"filter": "datum.b === 'BPM'"}], "mark": {"type": "rect", "clip": true, "fill": {"gradient": "linear", "x1": 0, "y1": 0, "x2": 0, "y2": 1, "stops": [{"offset": 0, "color": "#f3827a"}, {"offset": 0.3, "color": "#ec3f30"}, {"offset": 1, "color": "#df1f10"}]}, "stroke": "#d23a2c", "strokeWidth": 1}},
{"transform": [{"filter": "datum.b === 'W'"}], "mark": {"type": "rect", "clip": true, "fill": {"gradient": "linear", "x1": 0, "y1": 0, "x2": 0, "y2": 1, "stops": [{"offset": 0, "color": "#ffa6ff"}, {"offset": 0.3, "color": "#ff4cff"}, {"offset": 1, "color": "#ff12ff"}]}, "stroke": "#e83ce8", "strokeWidth": 1}},
{"transform": [{"filter": "datum.b !== 'BPM' && datum.b !== 'W'"}], "mark": {"type": "text", "clip": true, "color": "#bdbdbd", "fontSize": 19, "baseline": "middle"}, "encoding": {"text": {"field": "b"}}},
{"transform": [{"filter": "datum.b === 'BPM'"}], "mark": {"type": "text", "color": "#fff1ee", "fontSize": 19, "baseline": "middle"}, "encoding": {"text": {"field": "b"}}},
{"transform": [{"filter": "datum.b === 'W'"}], "mark": {"type": "text", "color": "#ffdcff", "fontSize": 19, "baseline": "middle"}, "encoding": {"text": {"field": "b"}}}
]
}
]
},
{
"width": 1440, "height": 637,
"layer": [
{"data": {"name": "bpm"}, "mark": {"type": "line", "color": "#f3381c", "strokeWidth": 2, "strokeJoin": "round"},
 "encoding": {
  "x": {"field": "t", "type": "quantitative", "scale": {"domain": [0, 8659], "nice": false, "zero": false},
        "axis": {"values": [0, 1000, 2000, 3000, 4000, 5000, 6000, 7000, 8000], "labelExpr": "utcFormat(datum.value * 1000, '%-H:%M:%S')", "labelColor": "#8a8a8a", "labelFontSize": 14.5, "labelDx": 9.7, "labelPadding": 11, "labelFlush": false, "labelOverlap": false, "ticks": false, "grid": false, "domainColor": "#a6a6a6", "domainWidth": 1.5, "title": null}},
  "y": {"field": "bpm", "type": "quantitative", "scale": {"domain": [-1.5, 185.5], "nice": false, "zero": false},
        "axis": {"orient": "right", "values": [0, 50, 100, 150], "labelColor": "#ee3a26", "labelFontSize": 17, "labelPadding": 12, "ticks": false, "grid": false, "domainColor": "#a6a6a6", "domainWidth": 1.5, "title": null}}
 }},
{"data": {"name": "watts"}, "mark": {"type": "line", "color": "#ff28ff", "strokeWidth": 1.5, "strokeJoin": "round"},
 "encoding": {
  "x": {"field": "t", "type": "quantitative"},
  "y": {"field": "w", "type": "quantitative", "scale": {"domain": [-2, 301], "nice": false, "zero": false},
        "axis": {"orient": "left", "values": [0, 50, 100, 150, 200, 250, 300], "labelColor": "#ff40ff", "labelFontSize": 17, "labelPadding": 13, "ticks": false, "grid": false, "domainColor": "#a6a6a6", "domainWidth": 1.5, "title": null}}
 }}
],
"resolve": {"scale": {"y": "independent"}, "axis": {"y": "independent"}}
}
]
}
